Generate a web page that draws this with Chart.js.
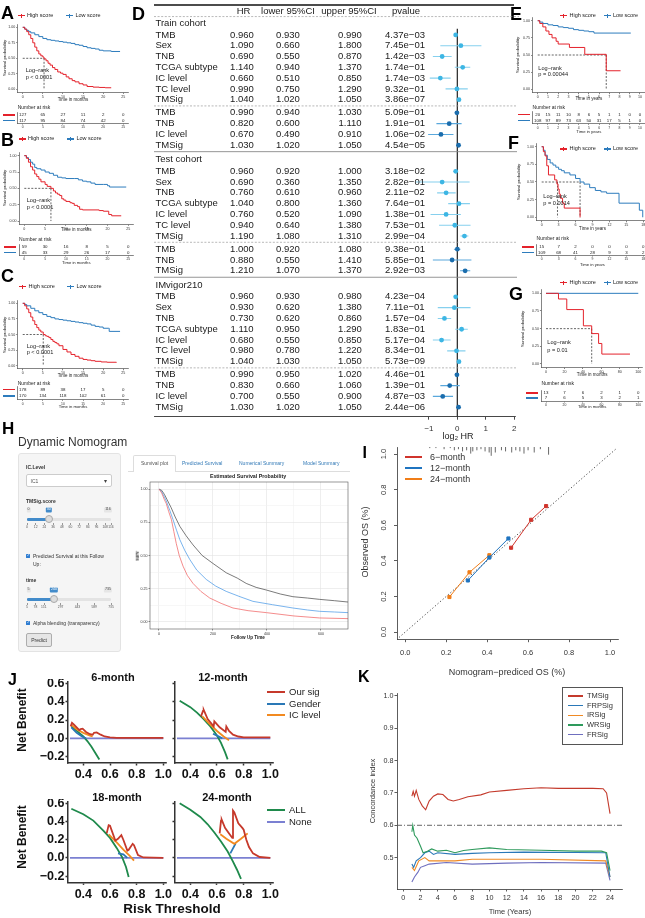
<!DOCTYPE html>
<html>
<head>
<meta charset="utf-8">
<title>TMSig figure</title>
<script src="https://cdn.jsdelivr.net/npm/chart.js@4.4.1/dist/chart.umd.min.js"></script>
<style>
  body { margin: 0; background: #fff; }
  #fig { position: relative; width: 645px; height: 918px; overflow: hidden; background: #fff; font-family: "Liberation Sans", Arial, sans-serif; color: #222; }
  #fig canvas { position: absolute; }
  .t { position: absolute; white-space: nowrap; line-height: 1; }
  .b { position: absolute; box-sizing: border-box; }
  sub { font-size: 0.65em; vertical-align: -0.25em; line-height: 0; }
</style>
</head>
<body>
<div id="fig"></div>
<script>
// ---- Kaplan-Meier curves: [time, survival] ----
const kmAHigh = [[0,1],[0.5,0.97],[1,0.93],[1.5,0.88],[2,0.82],[2.5,0.75],[3,0.68],[3.5,0.62],[4,0.57],[4.5,0.54],[5,0.52],[5.3,0.49],[5.8,0.46],[6.3,0.42],[6.8,0.39],[7.4,0.35],[8,0.32],[8.7,0.28],[9.4,0.26],[10,0.24],[10.8,0.2],[11.5,0.17],[12.3,0.14],[13,0.12],[14,0.09],[15,0.07],[16,0.045],[17.5,0.035],[19,0.03],[20.5,0.025],[22,0.025]];
const kmALow = [[0,1],[0.5,0.97],[1,0.95],[1.5,0.93],[2,0.91],[3,0.88],[4,0.85],[5,0.82],[6,0.8],[7,0.79],[8,0.78],[9,0.77],[10,0.76],[11,0.75],[12,0.74],[13,0.72],[14,0.71],[15,0.69],[16,0.67],[17,0.66],[18,0.65],[19,0.63],[20,0.62],[22,0.61],[24.2,0.61]];
const kmAMedian = [5.3];
const kmBHigh = [[0,1],[0.5,0.96],[1,0.9],[1.5,0.83],[2,0.78],[2.5,0.72],[3,0.68],[3.5,0.64],[4,0.6],[5,0.56],[5.5,0.53],[6.4,0.5],[7,0.46],[7.5,0.43],[8,0.41],[8.5,0.39],[9,0.34],[9.5,0.32],[10,0.3],[11,0.28],[11.5,0.27],[12,0.24],[12.8,0.22],[13.3,0.18],[14,0.17],[18,0.16],[19,0.15],[20.3,0.1],[21,0.08],[23.3,0.08]];
const kmBLow = [[0,1],[0.5,0.97],[1,0.94],[1.5,0.9],[2,0.87],[2.5,0.82],[3,0.8],[4,0.78],[5,0.75],[6,0.73],[7,0.7],[8,0.67],[9,0.66],[10,0.65],[12,0.65],[13,0.63],[14,0.61],[15,0.6],[16,0.58],[17,0.56],[19,0.56],[20,0.54],[20.5,0.52],[24.5,0.52]];
const kmBMedian = [6.4];
const kmCHigh = [[0,1],[0.5,0.96],[1,0.91],[1.5,0.85],[2,0.78],[2.5,0.72],[3,0.66],[3.5,0.61],[4,0.57],[4.5,0.54],[5.1,0.5],[5.6,0.48],[6,0.47],[6.5,0.45],[7,0.42],[7.5,0.39],[8,0.37],[8.5,0.35],[9,0.32],[10,0.26],[11,0.22],[12,0.18],[13,0.15],[14,0.12],[15,0.1],[16,0.09],[17,0.08],[18,0.07],[19.5,0.06],[21,0.055],[23.3,0.05]];
const kmCLow = [[0,1],[0.5,0.98],[1,0.96],[2,0.92],[3,0.88],[4,0.85],[5,0.82],[6,0.79],[7,0.77],[8,0.75],[9,0.74],[10,0.73],[11,0.72],[12,0.71],[13,0.7],[14,0.69],[15,0.68],[16,0.67],[17,0.65],[18,0.63],[19,0.62],[20,0.6],[21.3,0.6],[21.5,0.55],[24.2,0.55]];
const kmCMedian = [5.1];
const kmEHigh = [[0,1],[0.2,0.96],[0.5,0.91],[0.8,0.85],[1.1,0.8],[1.4,0.75],[1.8,0.7],[2.0,0.66],[3.1,0.61],[4.6,0.51],[6.7,0.27],[8.1,0.27]];
const kmELow = [[0,1],[0.2,0.98],[0.5,0.96],[1,0.94],[1.5,0.93],[2,0.91],[2.5,0.9],[3,0.89],[3.5,0.87],[4,0.86],[4.5,0.85],[5,0.84],[5.5,0.82],[9.1,0.82]];
const kmEMedian = [6.7];
const kmFHigh = [[0,1],[0.3,0.93],[0.6,0.87],[0.9,0.73],[1.2,0.6],[2.3,0.53],[2.7,0.47],[2.9,0.4],[3.1,0.33],[3.3,0.27],[3.7,0.2],[4.0,0.13],[6.8,0]];
const kmFLow = [[0,1],[0.3,0.95],[0.6,0.88],[1,0.82],[1.5,0.77],[2,0.74],[2.5,0.71],[3,0.68],[3.5,0.66],[4,0.63],[5,0.6],[6,0.55],[6.8,0.5],[7.5,0.47],[8.5,0.42],[9.5,0.38],[10.5,0.36],[11.5,0.34],[13.7,0.2],[17.3,0.1],[17.9,0]];
const kmFMedian = [2.8, 6.8];
const kmGHigh = [[0,1],[13.5,0.92],[22.5,0.77],[40.5,0.54],[49.5,0.43],[57,0.29],[60.5,0.14],[91,0.14]];
const kmGLow = [[0,1],[100,1]];
const kmGMedian = [49.5];

// ---- numbers at risk ----
const timesMonths25 = [0,5,10,15,20,25];
const timesYears10 = [0,1,2,3,4,5,6,7,8,9,10];
const timesYears18 = [0,3,6,9,12,15,18];
const timesMonths100 = [0,20,40,60,80,100];
const riskAHigh = [127,65,27,11,2,0], riskALow = [117,95,84,74,42,0];
const riskBHigh = [59,30,16,8,5,0], riskBLow = [45,33,29,26,17,0];
const riskCHigh = [178,89,38,17,5,0], riskCLow = [170,134,118,102,61,0];
const riskEHigh = [20,15,11,10,8,6,5,1,1,0,0], riskELow = [108,97,89,73,63,50,31,17,5,1,0];
const riskFHigh = [15,7,2,0,0,0,0], riskFLow = [109,68,41,28,9,3,2];
const riskGHigh = [13,7,6,2,1,0], riskGLow = [7,6,5,3,2,1];

// ---- forest table (D) ----
const cohortNames = ['Train cohort', 'Test cohort', 'IMvigor210'];
const forestBlockSizes = [7, 4, 7, 3, 7, 4];
const forestVar = ['TMB','Sex','TNB','TCGA subtype','IC level','TC level','TMSig', 'TMB','TNB','IC level','TMSig',
  'TMB','Sex','TNB','TCGA subtype','IC level','TC level','TMSig', 'TMB','TNB','TMSig',
  'TMB','Sex','TNB','TCGA subtype','IC level','TC level','TMSig', 'TMB','TNB','IC level','TMSig'];
const forestHR = [0.96,1.09,0.69,1.14,0.66,0.99,1.04, 0.99,0.82,0.67,1.03, 0.96,0.69,0.76,1.04,0.76,0.94,1.19, 1.00,0.88,1.21, 0.96,0.93,0.73,1.11,0.68,0.98,1.04, 0.99,0.83,0.70,1.03];
const forestLower = [0.93,0.66,0.55,0.94,0.51,0.75,1.02, 0.94,0.60,0.49,1.02, 0.92,0.36,0.61,0.80,0.52,0.64,1.08, 0.92,0.55,1.07, 0.93,0.62,0.62,0.95,0.55,0.78,1.03, 0.95,0.66,0.55,1.02];
const forestUpper = [0.99,1.80,0.87,1.37,0.85,1.29,1.05, 1.03,1.11,0.91,1.05, 1.00,1.35,0.96,1.36,1.09,1.38,1.31, 1.08,1.41,1.37, 0.98,1.38,0.86,1.29,0.85,1.22,1.05, 1.02,1.06,0.90,1.05];
const forestP = [4.37e-3,7.45e-1,1.42e-3,1.74e-1,1.74e-3,9.32e-1,3.86e-7, 5.09e-1,1.91e-1,1.06e-2,4.54e-5,
  3.18e-2,2.82e-1,2.11e-2,7.64e-1,1.38e-1,7.53e-1,2.99e-4, 9.38e-1,5.85e-1,2.92e-3,
  4.23e-4,7.11e-1,1.57e-4,1.83e-1,5.17e-4,8.34e-1,5.73e-9, 4.46e-1,1.39e-1,4.87e-3,2.44e-6];
const forestTicks = [-1, 0, 1, 2];

// ---- H: nomogram survival curves [day, surv] ----
const nomoGray = [[0,1],[10,0.99],[20,0.96],[30,0.92],[45,0.86],[60,0.79],[77,0.72],[100,0.65],[126,0.58],[160,0.5],[200,0.44],[249,0.37],[290,0.33],[323,0.29],[360,0.26],[398,0.24],[450,0.21],[496,0.19],[550,0.18],[595,0.17],[650,0.16],[700,0.15]];
const nomoBlue = [[0,1],[10,0.98],[20,0.94],[27,0.91],[40,0.84],[52,0.77],[65,0.69],[77,0.62],[95,0.54],[114,0.47],[140,0.39],[175,0.32],[210,0.27],[249,0.23],[300,0.19],[348,0.155],[420,0.13],[496,0.105],[550,0.09],[595,0.08],[650,0.075],[700,0.07]];
const nomoRed = [[0,1],[10,0.97],[20,0.92],[27,0.89],[36,0.83],[46,0.77],[55,0.68],[64,0.59],[75,0.5],[89,0.42],[105,0.35],[126,0.29],[155,0.23],[188,0.18],[230,0.14],[274,0.105],[330,0.085],[398,0.07],[500,0.045],[595,0.03],[700,0.025]];
const tmsigSliderTicks = [0,12,24,36,48,60,72,84,96,108,116];
const timeSliderTicks = [5,78,151,297,443,589,735];

// ---- I: calibration [predicted, observed] ----
const cal6m = [[0.517,0.474],[0.615,0.631],[0.688,0.708]];
const cal12m = [[0.306,0.29],[0.411,0.419],[0.504,0.526]];
const cal24m = [[0.216,0.197],[0.314,0.336],[0.411,0.432]];
const calDiag = [[-0.03,-0.03],[1.03,1.03]];
const calRug = [[0.12,1],[0.15,1],[0.19,2],[0.22,1],[0.24,3],[0.26,2],[0.28,4],[0.30,3],[0.32,6],[0.33,4],[0.35,3],[0.37,2],[0.39,4],[0.41,5],[0.42,8],[0.44,5],[0.47,3],[0.49,4],[0.52,5],[0.54,3],[0.56,4],[0.58,6],[0.60,3],[0.63,5],[0.66,2],[0.70,7]];
const calTicks = [0, 0.2, 0.4, 0.6, 0.8, 1.0];

// ---- J: decision curves [threshold, net benefit] ----
const dca6Our = [[0.305,0.13],[0.315,0.17],[0.33,0.15],[0.37,0.09],[0.38,0.1],[0.395,0.105],[0.42,0.07],[0.45,0.045],[0.47,0.04],[0.48,0.06],[0.50,0.065],[0.53,0.04],[0.56,0.02],[0.60,0.01],[0.65,0.005],[1.0,0.005]];
const dca6Gender = [[0.31,0.12],[0.35,0.06],[0.39,0.02],[0.42,0.0]];
const dca6IC = [[0.31,0.15],[0.35,0.1],[0.40,0.06],[0.45,0.03],[0.47,0.02]];
const dca6All = [[0.31,0.13],[0.36,0.07],[0.40,0.02],[0.43,-0.03],[0.46,-0.09],[0.49,-0.16],[0.52,-0.23]];
const dca12Our = [[0.48,0.24],[0.495,0.30],[0.50,0.31],[0.53,0.21],[0.575,0.13],[0.58,0.185],[0.62,0.12],[0.665,0.07],[0.67,0.13],[0.69,0.08],[0.72,0.04],[0.76,0.02],[0.80,0.01],[1.0,0.01]];
const dca12Gender = [[0.57,0.05],[0.60,0.03],[0.64,0.0]];
const dca12IC = [[0.49,0.24],[0.55,0.15],[0.60,0.08],[0.65,0.02],[0.69,-0.02]];
const dca12All = [[0.32,0.41],[0.40,0.34],[0.45,0.28],[0.50,0.21],[0.55,0.13],[0.60,0.03],[0.63,-0.05],[0.66,-0.15],[0.68,-0.23]];
const dca18Our = [[0.575,0.27],[0.59,0.36],[0.60,0.355],[0.64,0.19],[0.66,0.21],[0.685,0.25],[0.70,0.2],[0.73,0.08],[0.74,0.09],[0.77,0.155],[0.78,0.14],[0.81,0.03],[0.85,0.005],[1.0,0.0]];
const dca18Gender = [[0.66,0.05],[0.70,0.04],[0.73,0.0]];
const dca18IC = [[0.59,0.26],[0.65,0.17],[0.70,0.09],[0.75,0.02],[0.78,-0.03]];
const dca18All = [[0.31,0.54],[0.40,0.48],[0.475,0.41],[0.55,0.3],[0.60,0.22],[0.65,0.11],[0.69,0.01],[0.72,-0.1],[0.74,-0.21]];
const dca24Our = [[0.62,0.27],[0.63,0.41],[0.635,0.42],[0.66,0.33],[0.70,0.25],[0.715,0.22],[0.72,0.52],[0.73,0.5],[0.76,0.38],[0.79,0.33],[0.80,0.31],[0.82,0.2],[0.84,0.12],[0.87,0.05],[0.92,0.01],[1.0,0.0]];
const dca24Gender = [[0.70,0.05],[0.74,0.16]];
const dca24IC = [[0.625,0.26],[0.67,0.21],[0.73,0.155],[0.78,0.21],[0.83,0.27]];
const dca24All = [[0.32,0.6],[0.40,0.53],[0.475,0.45],[0.53,0.37],[0.58,0.28],[0.63,0.18],[0.68,0.07],[0.72,-0.04],[0.75,-0.13],[0.78,-0.23]];
const dcaNone = [[0.3,0],[1.0,0]];
const dcaXTicks = [0.4, 0.6, 0.8, 1.0];
const dcaYTicks = [-0.2, 0, 0.2, 0.4, 0.6];

// ---- K: time-dependent C-index [year, C] ----
const ciTMSig = [[1,0.69],[1.15,0.705],[1.3,0.69],[1.5,0.708],[1.8,0.68],[2.2,0.66],[2.6,0.648],[3,0.675],[3.5,0.69],[4,0.697],[4.6,0.695],[5.2,0.68],[5.8,0.675],[6.5,0.68],[7.5,0.688],[9,0.694],[10,0.703],[12,0.708],[14,0.713],[16,0.716],[18,0.714],[20,0.714],[22,0.714],[23.2,0.713],[23.6,0.7],[24,0.636]];
const ciFRPSig = [[1,0.48],[1.2,0.47],[1.5,0.49],[2,0.5],[2.5,0.515],[3,0.52],[3.5,0.51],[4,0.515],[6,0.51],[8,0.513],[10,0.515],[14,0.517],[20,0.516],[23.5,0.515],[24,0.44]];
const ciIRSig = [[1,0.47],[1.3,0.46],[1.8,0.49],[2.5,0.5],[3,0.49],[4,0.49],[6,0.49],[8,0.495],[10,0.495],[16,0.495],[23.5,0.49],[24,0.44]];
const ciWRSig = [[1,0.58],[1.1,0.6],[1.3,0.57],[1.6,0.56],[2,0.535],[2.3,0.515],[2.8,0.52],[3.3,0.527],[4,0.52],[5,0.523],[6,0.515],[7,0.522],[8,0.525],[10,0.53],[12,0.525],[16,0.523],[20,0.52],[23,0.52],[23.6,0.515],[24,0.46]];
const ciFRSig = [[1,0.425],[1.3,0.44],[1.7,0.455],[2,0.47],[2.5,0.475],[3,0.48],[5,0.485],[8,0.48],[12,0.483],[16,0.485],[23.5,0.483],[24,0.43]];
const cIndexRef = 0.6;
const kXTicks = [0,2,4,6,8,10,12,14,16,18,20,22,24];
const kYTicks = [0.5,0.6,0.7,0.8,0.9,1.0];

// colours
const RED = '#e4222b', BLUE = '#2d7cbd';
const J_RED = '#c6392b', J_BLUE = '#2a78b6', J_ORANGE = '#f28a20', J_GREEN = '#1f8a4c', J_NONE = '#7b80d2';

Chart.defaults.font.family = '"Liberation Sans", Arial, sans-serif';
Chart.defaults.color = '#222';

const fig = document.getElementById('fig');

function txt(s, x, y, size, o = {}) {
  const d = document.createElement('div');
  d.className = 't';
  if (o.html) d.innerHTML = s; else d.textContent = s;
  const ax = o.align === 'c' ? '-50%' : o.align === 'r' ? '-100%' : '0';
  const tr = o.rot ? `translate(-50%,-50%) rotate(${o.rot}deg)` : `translate(${ax},-50%)`;
  d.style.cssText = `left:${x}px;top:${y}px;font-size:${size}px;color:${o.color || '#222'};font-weight:${o.bold ? 'bold' : 'normal'};transform:${tr};` + (o.css || '');
  fig.appendChild(d);
  return d;
}

function box(x, y, w, h, css) {
  const d = document.createElement('div');
  d.className = 'b';
  d.style.cssText = `left:${x}px;top:${y}px;width:${w}px;height:${h}px;` + (css || '');
  fig.appendChild(d);
  return d;
}

function line(pairs, color, w, extra) {
  return Object.assign({
    data: pairs.map(p => ({x: p[0], y: p[1]})),
    borderColor: color, backgroundColor: color, borderWidth: w,
    showLine: true, pointRadius: 0, fill: false, tension: 0,
  }, extra || {});
}

function axis(min, max, ticks, o = {}) {
  const tl = o.tick ?? 1.5;
  return {
    type: 'linear', min, max, reverse: !!o.reverse,
    afterBuildTicks: s => { s.ticks = ticks.map(v => ({value: v})); },
    ticks: {
      display: o.labels !== false,
      font: {size: o.size || 4, weight: o.bold ? 'bold' : 'normal'},
      color: o.color || '#333', padding: o.pad ?? 1,
      autoSkip: false, maxRotation: 0, minRotation: 0,
      callback: o.fmt || (v => String(v)),
    },
    grid: {
      display: true, drawOnChartArea: !!o.grid, color: o.grid || 'rgba(0,0,0,0)',
      lineWidth: 0.6, drawTicks: tl > 0, tickLength: tl,
      tickColor: o.tickColor || '#333', tickWidth: o.lw || 0.6,
    },
    border: {display: o.border !== false, color: o.borderColor || '#333', width: o.lw || 0.6},
  };
}

// put a chart so that its plot area lands exactly on `area` (page pixels)
function place(area, pad, cfg) {
  const L = Math.floor(area.x - pad.l), T = Math.floor(area.y - pad.t);
  const W = Math.ceil(area.x + area.w + pad.r) - L, H = Math.ceil(area.y + area.h + pad.b) - T;
  const pl = area.x - L, pt = area.y - T, pr = W - pl - area.w, pb = H - pt - area.h;
  const cv = document.createElement('canvas');
  cv.width = W; cv.height = H;
  cv.style.left = L + 'px'; cv.style.top = T + 'px';
  fig.appendChild(cv);
  const sc = cfg.options.scales;
  let hasX = false, hasY = false;
  for (const k in sc) {
    if (sc[k].display === false) continue;
    const horiz = k[0] === 'x';
    if (horiz) hasX = true; else hasY = true;
    sc[k].afterFit = s => {
      if (horiz) s.height = pb; else s.width = pl;
      s.paddingLeft = s.paddingRight = s.paddingTop = s.paddingBottom = 0;
    };
  }
  Object.assign(cfg.options, {
    responsive: false, animation: false, events: [],
    layout: {padding: {left: hasY ? 0 : pl, top: pt, right: pr, bottom: hasX ? 0 : pb}},
  });
  cfg.options.plugins = Object.assign({legend: {display: false}, tooltip: {enabled: false}}, cfg.options.plugins || {});
  return new Chart(cv, cfg);
}

function riskNumbers(times, rows) {
  return {
    id: 'riskNumbers',
    afterDraw(chart) {
      const {ctx, scales: {x, y}} = chart;
      ctx.save();
      ctx.font = '4.4px "Liberation Sans", Arial, sans-serif';
      ctx.fillStyle = '#222'; ctx.textAlign = 'center'; ctx.textBaseline = 'middle';
      rows.forEach((vals, r) => vals.forEach((v, i) => {
        ctx.fillText(String(v), x.getPixelForValue(times[i]), y.getPixelForValue(1.5 - r));
      }));
      ctx.restore();
    }
  };
}

function kmLegend(x1, x2, y) {
  [[x1, RED, 'High score'], [x2, BLUE, 'Low score']].forEach(([x, c, s]) => {
    box(x, y - 0.6, 7, 1.2, `background:${c}`);
    box(x + 3, y - 2, 1, 4, `background:${c}`);
    txt(s, x + 9.5, y, 5.5);
  });
}

function kmPanel(p) {
  const dash = {borderDash: [2, 1.5]};
  const ds = [
    line(p.high, RED, 1, {stepped: 'before'}),
    line(p.low, BLUE, 1, {stepped: 'before'}),
    line([[0, 0.5], [Math.max(...p.median), 0.5]], '#222', 0.7, dash),
  ];
  p.median.forEach(m => ds.push(line([[m, 0.5], [m, 0]], '#222', 0.7, dash)));
  place(p.area, {l: 12, t: 3, r: 5, b: 6}, {
    type: 'scatter', data: {datasets: ds},
    options: {scales: {
      x: axis(p.xMin, p.xMax, p.ticks, {size: 3.6}),
      y: axis(-0.05, 1.05, [0, 0.25, 0.5, 0.75, 1], {size: 3.6, fmt: v => v.toFixed(2)}),
    }},
  });
  const ra = {x: p.area.x, y: p.riskY, w: p.area.w, h: p.riskH};
  place(ra, {l: 4, t: 1, r: 5, b: 5}, {
    type: 'scatter', data: {datasets: []},
    options: {scales: {
      x: axis(p.xMin, p.xMax, p.ticks, {size: 3.4}),
      y: axis(0, 2, [], {labels: false, tick: 0}),
    }},
    plugins: [riskNumbers(p.ticks, [p.riskHigh, p.riskLow])],
  });

  const px = v => p.area.x + (v - p.xMin) / (p.xMax - p.xMin) * p.area.w;
  const midX = px((p.ticks[0] + p.ticks[p.ticks.length - 1]) / 2);
  txt(p.letter, p.letterPos[0], p.letterPos[1], 18, {bold: true, color: '#000'});
  kmLegend(p.lx[0], p.lx[1], p.legendY);
  txt('Survival probability', p.yTitleX, p.area.y + p.area.h / 2, 4.3, {rot: -90});
  txt(p.xTitle, midX, p.xTitleY, 4.5, {align: 'c'});
  txt('Log\u2212rank', p.lrX, p.lrY[0], 5.6);
  txt(p.pText, p.lrX, p.lrY[1], 5.6);
  txt('Number at risk', p.area.x, p.nrY, 5);
  [RED, BLUE].forEach((c, r) => box(p.area.x - 15, ra.y + ra.h * (0.25 + 0.5 * r) - 0.8, 12, 1.6, `background:${c}`));
  if (p.riskTitleY) txt(p.xTitle, midX, p.riskTitleY, 4.2, {align: 'c'});
}

// ---------- A, B, C ----------
kmPanel({letter: 'A', letterPos: [1, 12.5], area: {x: 17.7, y: 24.2, w: 110.6, h: 68.2}, xMin: -1.25, xMax: 26.25, ticks: timesMonths25,
  high: kmAHigh, low: kmALow, median: kmAMedian, riskHigh: riskAHigh, riskLow: riskALow, riskY: 112.5, riskH: 10.5,
  legendY: 15.7, lx: [17.5, 66], xTitle: 'Time in months', xTitleY: 99.5, yTitleX: 5, nrY: 107.3, riskTitleY: null,
  lrX: 25.7, lrY: [71, 77.7], pText: 'p < 0.0001'});
kmPanel({letter: 'B', letterPos: [1, 139.5], area: {x: 19.1, y: 152.4, w: 114.4, h: 71.9}, xMin: -1.25, xMax: 26.25, ticks: timesMonths25,
  high: kmBHigh, low: kmBLow, median: kmBMedian, riskHigh: riskBHigh, riskLow: riskBLow, riskY: 244.5, riskH: 10.5,
  legendY: 139, lx: [18.5, 67], xTitle: 'Time in months', xTitleY: 230, yTitleX: 5, nrY: 239, riskTitleY: 263.3,
  lrX: 26.7, lrY: [201, 208.3], pText: 'p < 0.0001'});
kmPanel({letter: 'C', letterPos: [1, 276], area: {x: 17.7, y: 300.2, w: 110.6, h: 68.6}, xMin: -1.25, xMax: 26.25, ticks: timesMonths25,
  high: kmCHigh, low: kmCLow, median: kmCMedian, riskHigh: riskCHigh, riskLow: riskCLow, riskY: 386.3, riskH: 13,
  legendY: 286.7, lx: [19, 67], xTitle: 'Time in months', xTitleY: 376, yTitleX: 5, nrY: 383.3, riskTitleY: 407,
  lrX: 26.7, lrY: [346.7, 352.7], pText: 'p < 0.0001'});

// ---------- E, F, G ----------
kmPanel({letter: 'E', letterPos: [510, 14], area: {x: 532.6, y: 17.3, w: 112.5, h: 75.4}, xMin: -0.5, xMax: 10.5, ticks: timesYears10,
  high: kmEHigh, low: kmELow, median: kmEMedian, riskHigh: riskEHigh, riskLow: riskELow, riskY: 111.8, riskH: 11.5,
  legendY: 15.7, lx: [560, 603.5], xTitle: 'Time in years', xTitleY: 99, yTitleX: 518.3, nrY: 107.3, riskTitleY: 131.7,
  lrX: 538.3, lrY: [69.3, 75], pText: 'p = 0.00044'});
kmPanel({letter: 'F', letterPos: [508, 142.5], area: {x: 536.6, y: 143.2, w: 108.4, h: 77.6}, xMin: -0.9, xMax: 18.3, ticks: timesYears18,
  high: kmFHigh, low: kmFLow, median: kmFMedian, riskHigh: riskFHigh, riskLow: riskFLow, riskY: 244.5, riskH: 10.5,
  legendY: 149, lx: [560, 603.5], xTitle: 'Time in years', xTitleY: 229.3, yTitleX: 519.3, nrY: 238.3, riskTitleY: 265,
  lrX: 543.3, lrY: [196.7, 204.3], pText: 'p = 0.0014'});
kmPanel({letter: 'G', letterPos: [509, 294], area: {x: 541.4, y: 289.8, w: 101.5, h: 77.7}, xMin: -5, xMax: 105, ticks: timesMonths100,
  high: kmGHigh, low: kmGLow, median: kmGMedian, riskHigh: riskGHigh, riskLow: riskGLow, riskY: 390, riskH: 11,
  legendY: 282.7, lx: [560, 603.5], xTitle: 'Time in months', xTitleY: 375, yTitleX: 523.3, nrY: 383.3, riskTitleY: 407.3,
  lrX: 547.3, lrY: [343.3, 350.7], pText: 'p = 0.01'});

// ---------- D: forest plot ----------
function forestLayout() {
  const rows = [], headers = [], dashed = [], solid = [];
  let y = 19.5, i = 0;
  forestBlockSizes.forEach((n, b) => {
    const multi = b % 2 === 1;
    if (!multi) { headers.push({name: cohortNames[b / 2], y}); y += 11.7; }
    for (let k = 0; k < n; k++) { rows.push({i: i++, y, multi}); y += 10.9; }
    const last = y - 10.9;
    if (!multi) { dashed.push(last + 6.3); y = last + 13.3; }
    else if (b < forestBlockSizes.length - 1) { solid.push(last + 6.5); y = last + 14.6; }
  });
  return {rows, headers, dashed, solid};
}
const forestRows = forestLayout();

function fmtP(v) {
  return v.toExponential(2).replace(/e([+-])(\d+)$/, (m, sg, d) => 'e' + (sg === '-' ? '\u2212' : '+') + d.padStart(2, '0'));
}

const forestPlugin = {
  id: 'forestTable',
  beforeDatasetsDraw(chart) {
    const {ctx, scales: {x, y}, chartArea: a} = chart;
    const x0 = x.getPixelForValue(0);
    ctx.save();
    ctx.strokeStyle = '#333'; ctx.lineWidth = 1.3;
    ctx.beginPath(); ctx.moveTo(x0, y.getPixelForValue(25)); ctx.lineTo(x0, a.bottom); ctx.stroke();
    ctx.restore();
  },
  afterDraw(chart) {
    const {ctx, scales: {y}, chartArea: a} = chart;
    const L = forestRows;
    const hline = (yy, dash, color, w, len) => {
      ctx.setLineDash(dash); ctx.strokeStyle = color; ctx.lineWidth = w;
      ctx.beginPath(); ctx.moveTo(a.left, y.getPixelForValue(yy)); ctx.lineTo(a.left + len, y.getPixelForValue(yy)); ctx.stroke();
    };
    ctx.save();
    hline(1, [], '#111', 1.4, 360);
    hline(12.7, [2, 1.6], '#9a9a9a', 0.7, 365);
    L.dashed.forEach(v => hline(v, [2, 1.6], '#9a9a9a', 0.7, 363));
    L.solid.forEach(v => hline(v, [], '#8a8a8a', 0.9, 363));
    ctx.setLineDash([]);
    ctx.font = '9.5px "Liberation Sans", Arial, sans-serif';
    ctx.fillStyle = '#1a1a1a'; ctx.textBaseline = 'middle';
    const col = (s, cx, yy) => { ctx.textAlign = 'center'; ctx.fillText(s, a.left + cx, yy); };
    const hy = y.getPixelForValue(7);
    col('HR', 89.5, hy); col('lower 95%CI', 134, hy); col('upper 95%CI', 195, hy); col('pvalue', 252, hy);
    ctx.textAlign = 'left';
    L.headers.forEach(h => ctx.fillText(h.name, a.left + 1.5, y.getPixelForValue(h.y)));
    L.rows.forEach(r => {
      const yy = y.getPixelForValue(r.y);
      ctx.textAlign = 'left';
      ctx.fillText(forestVar[r.i], a.left + 1.5, yy);
      col(forestHR[r.i].toFixed(3), 88, yy);
      col(forestLower[r.i].toFixed(3), 134, yy);
      col(forestUpper[r.i].toFixed(3), 196, yy);
      col(fmtP(forestP[r.i]), 251, yy);
    });
    ctx.restore();
  }
};

(function forest() {
  const area = {x: 150, y: 0, w: 365, h: 416.7};
  const unit = 28.7, zeroPx = 456.7;
  const xMin = (area.x - zeroPx) / unit, xMax = (area.x + area.w - zeroPx) / unit;
  const light = {pt: '#3db6e4', ci: '#86d0ee'}, dark = {pt: '#1b6dad', ci: '#5aa8dc'};
  const sets = [{
    data: forestRows.rows.map(r => ({x: Math.log2(forestHR[r.i]), y: r.y})),
    pointRadius: 2.4, pointBorderWidth: 0, showLine: false,
    pointBackgroundColor: forestRows.rows.map(r => r.multi ? dark.pt : light.pt),
  }];
  forestRows.rows.forEach(r => {
    const c = r.multi ? dark : light;
    sets.push(line([[Math.log2(forestLower[r.i]), r.y], [Math.log2(forestUpper[r.i]), r.y]], c.ci, 1.1));
  });
  place(area, {l: 0, t: 0, r: 4, b: 19}, {
    type: 'scatter', data: {datasets: sets},
    options: {scales: {
      x: axis(xMin, xMax, forestTicks, {size: 8, tick: 3, pad: 4.5, lw: 0.9, fmt: v => v < 0 ? '\u2212' + (-v) : String(v)}),
      y: {type: 'linear', min: 0, max: area.h, reverse: true, display: false},
    }},
    plugins: [forestPlugin],
  });
  txt('D', 132, 14, 18, {bold: true, color: '#000'});
  txt('log<sub>2</sub> HR', 458, 436, 9, {html: true, align: 'c'});
})();

// ---------- H: dynamic nomogram ----------
function slider(y, min, max, val, ticks) {
  const x0 = 27, x1 = 111;
  const px = v => x0 + (x1 - x0) * (v - min) / (max - min);
  const tag = (s, x, blue) => txt(s, x, y, 3.6, {align: 'c', color: blue ? '#fff' : '#444',
    css: `background:${blue ? '#428bca' : '#e6e6e6'};padding:0.8px 1.2px;border-radius:1px;`});
  tag(String(min), px(min) + 1.5, false);
  tag(String(val), px(val), true);
  tag(String(max), px(max) - 3, false);
  box(x0, y + 8, x1 - x0, 2.6, 'background:#e3e3e3;border-radius:1.3px');
  box(x0, y + 8, px(val) - x0, 2.6, 'background:#428bca;border-radius:1.3px');
  box(px(val) - 4, y + 5.3, 8, 8, 'background:#ddd;border:0.6px solid #aaa;border-radius:50%');
  ticks.forEach(t => {
    const tx = px(t);
    box(tx - 0.25, y + 12.5, 0.5, 2, 'background:#999');
    txt(String(t), tx, y + 18, 3.3, {align: 'c', color: '#555'});
  });
}
function check(x, y, lines) {
  box(x, y - 2, 4, 4, 'background:#2f7dd1;border-radius:0.6px');
  txt('\u2713', x + 2, y, 3.4, {align: 'c', color: '#fff', bold: true});
  lines.forEach((s, i) => txt(s, x + 7, y + i * 8, 5, {color: '#333'}));
}

txt('H', 2, 428, 17, {bold: true, color: '#000'});
txt('Dynamic Nomogram', 18, 442, 12, {color: '#333'});
box(18, 453, 103, 199, 'background:#f5f5f5;border:0.6px solid #e3e3e3;border-radius:3px');
txt('IC.Level', 26, 467, 5, {bold: true, color: '#333'});
box(26, 474, 86, 13, 'background:#fff;border:0.6px solid #ccc;border-radius:2px');
txt('IC1', 30.5, 480.5, 5, {color: '#555'});
txt('\u25BE', 104, 480.5, 6, {color: '#444'});
txt('TMSig.score', 26, 501, 5, {bold: true, color: '#333'});
slider(510, 0, 116, 30, tmsigSliderTicks);
check(26, 556, ['Predicted Survival at this Follow', 'Up:']);
txt('time', 26, 580, 5, {bold: true, color: '#333'});
slider(590, 5, 735, 240, timeSliderTicks);
check(26, 623, ['Alpha blending (transparency)']);
box(26, 633, 26, 14, 'background:#e6e6e6;border:0.8px solid #adadad;border-radius:2px');
txt('Predict', 39, 640, 5, {align: 'c', color: '#333'});

box(133, 455, 43, 16.5, 'background:#fff;border:0.6px solid #ddd;border-bottom:none;border-radius:2px 2px 0 0');
box(128, 471, 5, 0.6, 'background:#ddd');
box(176, 471, 174, 0.6, 'background:#ddd');
txt('Survival plot', 154.5, 463, 5, {align: 'c', color: '#555'});
txt('Predicted Survival', 182, 463, 5, {color: '#337ab7'});
txt('Numerical Summary', 239, 463, 5, {color: '#337ab7'});
txt('Model Summary', 303, 463, 5, {color: '#337ab7'});
txt('Estimated Survival Probability', 248, 477, 5.3, {align: 'c', bold: true});

const framePlugin = {
  id: 'frame',
  afterDatasetsDraw(chart) {
    const {ctx, chartArea: a} = chart;
    ctx.save(); ctx.strokeStyle = '#555'; ctx.lineWidth = 0.6;
    ctx.strokeRect(a.left, a.top, a.width, a.height); ctx.restore();
  }
};
place({x: 150, y: 482, w: 198, h: 147}, {l: 10, t: 1, r: 3, b: 7}, {
  type: 'scatter',
  data: {datasets: [
    line(nomoRed, 'rgba(240,95,95,0.9)', 0.8),
    line(nomoBlue, 'rgba(70,150,230,0.9)', 0.8),
    line(nomoGray, 'rgba(60,60,60,0.85)', 0.8),
  ]},
  options: {scales: {
    x: axis(-33.3, 700, [0, 100, 200, 300, 400, 500, 600], {size: 3.6, tick: 1.5, border: false,
      grid: c => (c.tick && c.tick.value % 200 === 0) ? '#e2e2e2' : '#f1f1f1',
      tickColor: c => (c.tick && c.tick.value % 200 === 0) ? '#444' : 'rgba(0,0,0,0)',
      fmt: v => v % 200 === 0 ? String(v) : ''}),
    y: axis(-0.053, 1.053, [0, 0.125, 0.25, 0.375, 0.5, 0.625, 0.75, 0.875, 1], {size: 3.6, tick: 1.5, border: false,
      grid: c => (c.tick && (c.tick.value * 4) % 1 === 0) ? '#e2e2e2' : '#f1f1f1',
      tickColor: c => (c.tick && (c.tick.value * 4) % 1 === 0) ? '#444' : 'rgba(0,0,0,0)',
      fmt: v => (v * 4) % 1 === 0 ? v.toFixed(2) : ''}),
  }},
  plugins: [framePlugin],
});
txt('surv', 138, 556, 4.5, {rot: -90, bold: true});
txt('Follow Up Time', 248, 638, 4.6, {align: 'c', bold: true});

// ---------- I: calibration ----------
const C6 = '#d0342c', C12 = '#1f74c0', C24 = '#f07d18';
const calPlugin = {
  id: 'calExtras',
  afterDraw(chart) {
    const {ctx, scales: {x, y}, chartArea: a} = chart;
    ctx.save();
    ctx.fillStyle = '#333'; ctx.font = '7.5px "Liberation Sans", Arial, sans-serif';
    ctx.textAlign = 'center'; ctx.textBaseline = 'middle';
    calTicks.forEach(v => {
      ctx.save(); ctx.translate(a.left - 13, y.getPixelForValue(v)); ctx.rotate(-Math.PI / 2);
      ctx.fillText(v.toFixed(1), 0, 0); ctx.restore();
    });
    ctx.strokeStyle = '#444'; ctx.lineWidth = 0.8;
    calRug.forEach(([v, n]) => {
      const px = x.getPixelForValue(v);
      ctx.beginPath(); ctx.moveTo(px, a.top); ctx.lineTo(px, a.top + n * 1.1); ctx.stroke();
    });
    ctx.restore();
  }
};
const calPts = c => ({pointRadius: 2.2, pointStyle: 'rect', pointBackgroundColor: c, pointBorderColor: c});
place({x: 397, y: 444.8, w: 221.2, h: 194.4}, {l: 20, t: 2, r: 5, b: 20}, {
  type: 'scatter',
  data: {datasets: [
    line(cal6m, C6, 1, calPts(C6)),
    line(cal12m, C12, 1, calPts(C12)),
    line(cal24m, C24, 1, calPts(C24)),
    line(calDiag, '#333', 0.9, {borderDash: [1.2, 2.2]}),
  ]},
  options: {scales: {
    x: axis(-0.04, 1.04, calTicks, {size: 7.5, tick: 3, pad: 6, lw: 0.8, fmt: v => v.toFixed(1)}),
    y: axis(-0.04, 1.04, calTicks, {labels: false, tick: 3, lw: 0.8}),
  }},
  plugins: [calPlugin],
});
txt('I', 362.5, 453.3, 16, {bold: true, color: '#000'});
[['6\u2212month', C6, 457], ['12\u2212month', C12, 468], ['24\u2212month', C24, 479]].forEach(([s, c, y]) => {
  box(405, y - 0.6, 17, 1.2, `background:${c}`);
  txt(s, 430, y, 9, {color: '#333'});
});
txt('Observed OS (%)', 365, 542, 9, {rot: -90, color: '#333'});
txt('Nomogram\u2212prediced OS (%)', 507, 672, 9, {align: 'c', color: '#333'});

// ---------- J: decision curves ----------
function dcaPanel(area, s, showY, title, titlePos) {
  const o = {size: 12.5, bold: true, tick: 2.5, lw: 1.5, color: '#111'};
  place(area, {l: showY ? 30 : 4, t: 2, r: 10, b: 20}, {
    type: 'scatter',
    data: {datasets: [
      line(s.our, J_RED, 1.8), line(s.ic, J_ORANGE, 1.8), line(s.gender, J_BLUE, 1.8),
      line(s.all, J_GREEN, 1.8), line(dcaNone, J_NONE, 1.8),
    ]},
    options: {scales: {
      x: axis(0.285, 1.02, dcaXTicks, Object.assign({}, o, {pad: 2, fmt: v => v.toFixed(1)})),
      y: axis(-0.269, 0.62, dcaYTicks, Object.assign({}, o, {labels: showY, pad: 1,
        fmt: v => (v < 0 ? '\u2212' : '') + Math.abs(v).toFixed(1)})),
    }},
  });
  txt(title, titlePos[0], titlePos[1], 11, {align: 'c', bold: true, color: '#111'});
}
dcaPanel({x: 68, y: 681.5, w: 98, h: 81.5}, {our: dca6Our, ic: dca6IC, gender: dca6Gender, all: dca6All}, true, '6-month', [113, 677]);
dcaPanel({x: 175, y: 681.5, w: 98, h: 81.5}, {our: dca12Our, ic: dca12IC, gender: dca12Gender, all: dca12All}, false, '12-month', [223, 677]);
dcaPanel({x: 68, y: 801.5, w: 98, h: 80.9}, {our: dca18Our, ic: dca18IC, gender: dca18Gender, all: dca18All}, true, '18-month', [117, 797]);
dcaPanel({x: 175, y: 801.5, w: 98, h: 80.9}, {our: dca24Our, ic: dca24IC, gender: dca24Gender, all: dca24All}, false, '24-month', [227, 797]);
txt('J', 8, 680, 16, {bold: true, color: '#000'});
txt('Net Benefit', 22, 720, 12, {rot: -90, bold: true, color: '#111'});
txt('Net Benefit', 22, 837, 12, {rot: -90, bold: true, color: '#111'});
txt('Risk Threshold', 172, 909, 13.5, {align: 'c', bold: true, color: '#111'});
[['Our sig', J_RED, 692], ['Gender', J_BLUE, 703.7], ['IC level', J_ORANGE, 715], ['ALL', J_GREEN, 810], ['None', J_NONE, 822]].forEach(([s, c, y]) => {
  box(267, y - 1.1, 18, 2.2, `background:${c}`);
  txt(s, 289, y, 9.5, {color: '#222'});
});

// ---------- K: C-index over time ----------
const kXMin = -0.73, kXMax = 25.39;
const K_COL = {TMSig: '#c43a2c', FRPSig: '#2a78b8', IRSig: '#f08a24', WRSig: '#2e9a5c', FRSig: '#6f6fbf'};
place({x: 397, y: 693, w: 225, h: 196}, {l: 16, t: 3, r: 3, b: 13}, {
  type: 'scatter',
  data: {datasets: [
    line(ciTMSig, K_COL.TMSig, 1.1), line(ciWRSig, K_COL.WRSig, 1.1), line(ciFRPSig, K_COL.FRPSig, 1.1),
    line(ciIRSig, K_COL.IRSig, 1.1), line(ciFRSig, K_COL.FRSig, 1.1),
    line([[kXMin, cIndexRef], [kXMax, cIndexRef]], '#555', 0.9, {borderDash: [5, 2, 1, 2]}),
  ]},
  options: {scales: {
    x: axis(kXMin, kXMax, kXTicks, {size: 7.2, tick: 2.5, pad: 2, lw: 0.8}),
    y: axis(0.403, 1.009, kYTicks, {size: 7.2, tick: 2.5, pad: 1, lw: 0.8, fmt: v => v.toFixed(1)}),
  }},
});
txt('K', 358, 677, 16, {bold: true, color: '#000'});
box(562, 687, 61, 58, 'border:0.8px solid #555');
[['TMSig', 696], ['FRPSig', 705.7], ['IRSig', 715.3], ['WRSig', 725], ['FRSig', 734.7]].forEach(([s, y]) => {
  box(568, y - 0.6, 15, 1.2, `background:${K_COL[s]}`);
  txt(s, 587, y, 7.5, {color: '#333'});
});
txt('Concordance index', 373, 791, 7.5, {rot: -90, color: '#333'});
txt('Time (Years)', 510, 912, 7.5, {align: 'c', color: '#333'});
</script>
</body>
</html>
